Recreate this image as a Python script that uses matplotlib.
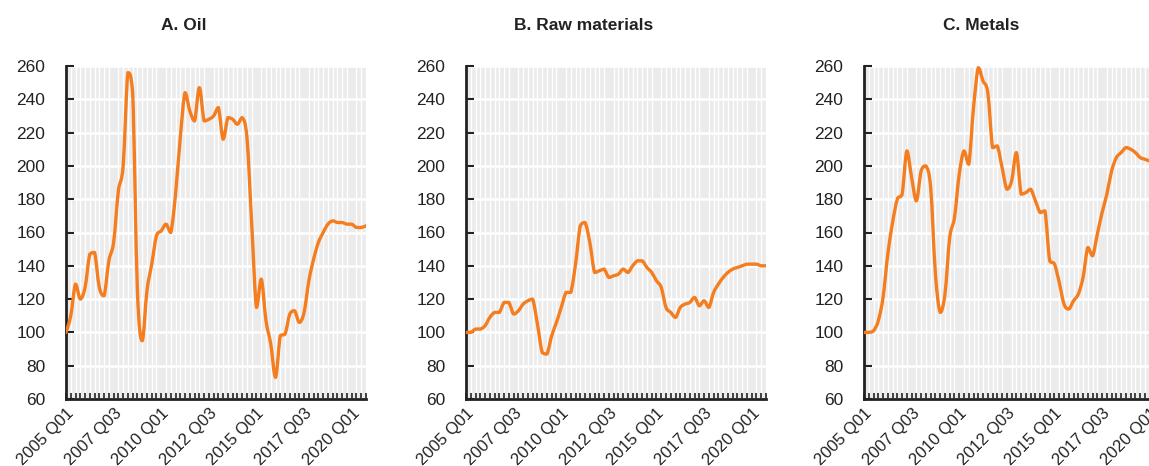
import matplotlib.pyplot as plt
import matplotlib.transforms as mtransforms
from matplotlib.path import Path
from matplotlib.patches import PathPatch
import numpy as np

# quarters 2005 Q1 .. 2020 Q4
quarters = [f"{2005 + i // 4} Q{i % 4 + 1:02d}" for i in range(64)]

oil = [100, 110, 129, 120, 127, 147, 148, 127, 122, 143,
       154, 185, 200, 256, 244, 125, 95, 125, 141, 158,
       161, 165, 160, 183, 217, 244, 233, 227, 247, 227,
       228, 230, 235, 216, 229, 228, 225, 229, 217, 165,
       115, 132, 107, 93, 73, 98, 99, 111, 113, 106,
       112, 131, 144, 154, 160, 165, 167, 166, 166, 165,
       165, 163, 163, 164]

raw = [100, 100, 102, 102, 104, 109, 112, 112, 118, 118,
       111, 113, 117, 119, 120, 105, 88, 87, 98, 106,
       115, 124, 124, 141, 164, 166, 154, 136, 137, 138,
       133, 134, 135, 138, 136, 140, 143, 143, 139, 136,
       131, 127, 115, 112, 109, 115, 117, 118, 121, 116,
       119, 115, 124, 129, 133, 136, 138, 139, 140, 141,
       141, 141, 140, 140]

metals = [100, 100, 101, 107, 121, 147, 166, 180, 183, 209,
          193, 179, 197, 200, 187, 135, 112, 123, 157, 169,
          195, 209, 201, 235, 259, 251, 244, 211, 212, 199,
          186, 191, 208, 183, 184, 186, 179, 172, 173, 143,
          141, 130, 117, 114, 119, 123, 133, 151, 146, 159,
          172, 183, 197, 205, 208, 211, 210, 208, 205, 204,
          203, 203, 202, 202]

titles = ["A. Oil", "B. Raw materials", "C. Metals"]
series = [oil, raw, metals]


def smooth_path(xs, ys, t=1/6):
    # bezier curve through the points, control points kept between neighbours
    pts = np.column_stack([xs, ys]).astype(float)
    verts = [pts[0]]
    codes = [Path.MOVETO]
    n = len(pts)
    for i in range(n - 1):
        p0 = pts[max(i - 1, 0)]
        p1 = pts[i]
        p2 = pts[i + 1]
        p3 = pts[min(i + 2, n - 1)]
        c1 = p1 + (p2 - p0) * t
        c2 = p2 - (p3 - p1) * t
        lo, hi = min(p1[1], p2[1]), max(p1[1], p2[1])
        c1[1] = min(max(c1[1], lo), hi)
        c2[1] = min(max(c2[1], lo), hi)
        verts += [c1, c2, p2]
        codes += [Path.CURVE4] * 3
    return Path(verts, codes)


plt.rcParams['font.family'] = ['Liberation Sans', 'DejaVu Sans']

W, H = 1149, 466
fig = plt.figure(figsize=(W / 100, H / 100), dpi=100)

lefts = [66, 466, 864]
title_x = [184, 584, 981]
x = np.arange(len(quarters))

for k in range(3):
    ax = fig.add_axes([lefts[k] / W, (H - 399) / H, 300 / W, 333 / H])
    ax.set_facecolor('#ebebeb')
    ax.add_patch(PathPatch(smooth_path(x, series[k]), fill=False,
                           edgecolor='#f47d20', lw=2.4, capstyle='round',
                           joinstyle='round', zorder=3))
    ax.set_xlim(0, 63)
    ax.set_ylim(60, 260)
    ax.set_yticks(range(60, 261, 20))
    ax.set_xticks(x[::10])
    ax.set_xticklabels(quarters[::10], rotation=45, ha='right',
                       rotation_mode='anchor', fontsize=12, color='#222222')
    shift = mtransforms.ScaledTranslation(5 / 100, 0, fig.dpi_scale_trans)
    for lab in ax.get_xticklabels():
        lab.set_transform(lab.get_transform() + shift)
    ax.set_xticks(x, minor=True)
    ax.grid(axis='y', color='white', lw=1.8, zorder=1)
    ax.grid(axis='x', which='minor', color='white', lw=1.0, zorder=1)
    ax.tick_params(axis='y', direction='in', length=6, width=1.5,
                   labelsize=12.5, labelcolor='#222222', pad=15, color='#222222')
    ax.tick_params(axis='x', which='both', direction='in', length=4,
                   width=1.2, color='#222222', pad=5)
    for s in ['top', 'right']:
        ax.spines[s].set_visible(False)
    for s in ['left', 'bottom']:
        ax.spines[s].set_linewidth(2)
        ax.spines[s].set_color('#222222')
    fig.text(title_x[k] / W, 1 - 26 / H, titles[k], ha='center', va='center',
             fontsize=12.5, fontweight='bold', color='#222222')

fig.savefig('out.png', dpi=100)
